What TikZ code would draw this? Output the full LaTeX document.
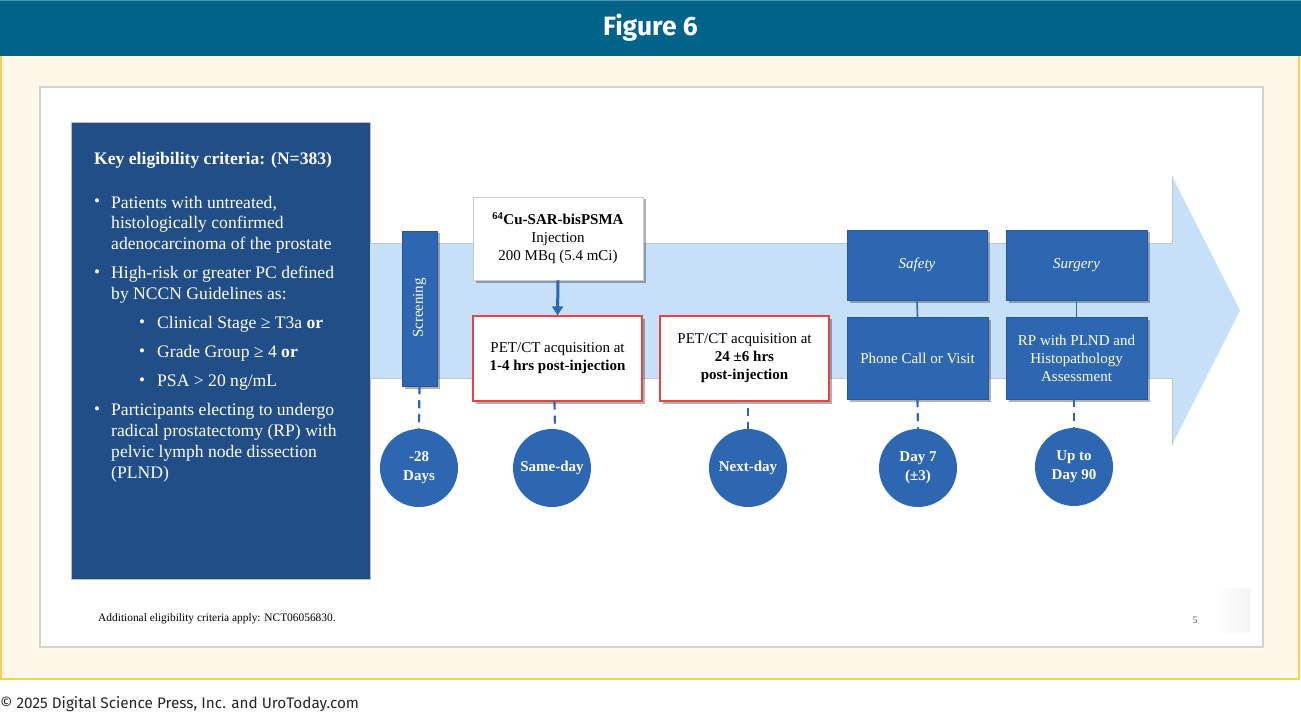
\documentclass[tikz,border=0pt]{standalone}
\usepackage{fontspec}
\setmainfont{Liberation Serif}
\newfontfamily\hdrfont{Fira Sans}
\usetikzlibrary{shadows,arrows.meta}
\definecolor{hdr}{RGB}{0,100,138}
\definecolor{panel}{RGB}{255,248,233}
\definecolor{panelborder}{RGB}{252,208,80}
\definecolor{leftblue}{RGB}{33,78,134}
\definecolor{midblue}{RGB}{46,103,177}
\definecolor{lightarrow}{RGB}{197,224,247}
\definecolor{redbox}{RGB}{228,68,68}
\tikzset{
  shadowed/.style={drop shadow={shadow xshift=2.5pt,shadow yshift=-2.5pt,opacity=0.3,fill=black}},
  bluebox/.style={shadowed,fill=midblue,draw=midblue!85!black,line width=0.5pt,text=white,align=center,inner sep=0pt,font=\fontsize{15}{18}\selectfont},
  redbx/.style={shadowed,fill=white,draw=redbox,line width=1.3pt,align=center,inner sep=0pt,font=\fontsize{15}{18}\selectfont},
  whitebx/.style={shadowed,fill=white,draw=gray!40,line width=0.6pt,align=center,inner sep=0pt,font=\fontsize{15}{18}\selectfont},
  daycirc/.style={circle,fill=midblue,minimum size=78pt,inner sep=0pt,text=white,align=center,font=\fontsize{15}{19}\selectfont\bfseries},
  dashlink/.style={draw=midblue,line width=2.2pt,dash pattern=on 8pt off 6pt},
  solidlink/.style={draw=midblue,line width=1.6pt},
  crit/.style={anchor=base west,text=white,inner sep=0pt,font=\fontsize{17.6}{20}\selectfont},
  bul/.style={anchor=base,text=white,inner sep=0pt,font=\fontsize{17}{18}\selectfont},
}
\begin{document}
\begin{tikzpicture}[x=1pt,y=-1pt]
\useasboundingbox (0,0) rectangle (1301,714);
\fill[white] (0,0) rectangle (1301,714);
% header
\fill[hdr] (0,0) rectangle (1301,56);
\fill[hdr!70!white] (0,0) rectangle (1301,1);
\node[text=white,font=\hdrfont\bfseries\fontsize{26.5}{30}\selectfont] (title) at (650.5,28) {Figure 6};
% panel
\fill[panel] (0,56) rectangle (1301,680);
\draw[panelborder,line width=2pt] (1,56) -- (1,679) -- (1299,679) -- (1299,56);
% slide
\draw[fill=white,draw=gray!35,line width=2pt] (40,87) rectangle (1263,647);
\shade[left color=white,right color=gray!8] (1212,588) rectangle (1250,632);
% left box
\draw[fill=leftblue,draw=gray!50,line width=0.8pt] (71,122) rectangle (370,579);
\node[crit,font=\fontsize{17.6}{20}\selectfont\bfseries] (t0) at (94,165) {Key eligibility criteria: (N=383)};
\node[bul] (b1) at (97,207) {•};
\node[crit] (t1a) at (111,208) {Patients with untreated,};
\node[crit] (t1b) at (111,229) {histologically confirmed};
\node[crit] (t1c) at (111,250) {adenocarcinoma of the prostate};
\node[bul] (b2) at (97,277) {•};
\node[crit] (t2a) at (111,278) {High-risk or greater PC defined};
\node[crit] (t2b) at (111,299) {by NCCN Guidelines as:};
\node[bul] (b3) at (142,327) {•};
\node[crit] (t3) at (157,328) {Clinical Stage ≥ T3a \textbf{or}};
\node[bul] (b4) at (142,356) {•};
\node[crit] (t4) at (157,357) {Grade Group ≥ 4 \textbf{or}};
\node[bul] (b5) at (142,385) {•};
\node[crit] (t5) at (157,386) {PSA > 20 ng/mL};
\node[bul] (b6) at (97,414) {•};
\node[crit] (t6a) at (111,415) {Participants electing to undergo};
\node[crit] (t6b) at (111,436) {radical prostatectomy (RP) with};
\node[crit] (t6c) at (111,457) {pelvic lymph node dissection};
\node[crit] (t6d) at (111,478) {(PLND)};
% big arrow
\fill[lightarrow] (370,243) -- (1172,243) -- (1172,176) -- (1240,310.5) -- (1172,445) -- (1172,378) -- (370,378) -- cycle;
\draw[gray!45,line width=0.6pt] (370,243) -- (1172,243) -- (1172,176);
\draw[gray!45,line width=0.6pt] (370,378) -- (1172,378) -- (1172,445);
% boxes
\node[bluebox,minimum width=35pt,minimum height=155pt] (scr) at (419.5,308.5) {};
\node[text=white,rotate=90,font=\fontsize{15}{18}\selectfont] (scrtxt) at (419.5,308) {Screening};
\node[whitebx,minimum width=170pt,minimum height=83pt] (inj) at (558,238.5) {\textbf{\textsuperscript{64}Cu-SAR-bisPSMA}\\Injection\\200 MBq (5.4 mCi)};
\node[redbx,minimum width=169pt,minimum height=85pt] (pet1) at (557.5,358.5) {PET/CT acquisition at\\\textbf{1-4 hrs post-injection}};
\node[redbx,minimum width=169pt,minimum height=85pt] (pet2) at (744.5,358.5) {PET/CT acquisition at\\\textbf{24 ±6 hrs}\\\textbf{post-injection}};
\node[bluebox,minimum width=140pt,minimum height=70pt,font=\fontsize{15}{18}\selectfont\itshape] (saf) at (917,265) {Safety};
\node[bluebox,minimum width=141pt,minimum height=82pt] (phone) at (917.5,358) {Phone Call or Visit};
\node[bluebox,minimum width=141pt,minimum height=70pt,font=\fontsize{15}{18}\selectfont\itshape] (surg) at (1076.5,265) {Surgery};
\node[bluebox,minimum width=141pt,minimum height=82pt] (rp) at (1076.5,358) {RP with PLND and\\Histopathology\\Assessment};
% connectors
\draw[midblue,line width=3pt,-{Triangle[width=11pt,length=9pt]}] (inj.south) -- (pet1.north);
\draw[solidlink] (saf.south) -- (phone.north);
\draw[solidlink] (surg.south) -- (rp.north);
% circles
\node[daycirc] (c1) at (419,468) {-28\\Days};
\node[daycirc] (c2) at (552,468) {Same-day};
\node[daycirc] (c3) at (748,468) {Next-day};
\node[daycirc] (c4) at (918,468) {Day 7\\(±3)};
\node[daycirc] (c5) at (1074,467) {Up to\\Day 90};
\draw[dashlink] (scr.south) -- (c1.north);
\draw[dashlink] ([xshift=-3pt]pet1.south) -- ([xshift=3pt]c2.north);
\draw[dashlink] ([yshift=-6pt]pet2.south) ++(3.5,0) -- (c3.north);
\draw[dashlink] (phone.south) -- (c4.north);
\draw[dashlink] ([xshift=-2.5pt]rp.south) -- (c5.north);
% footnotes
\node[anchor=base west,inner sep=0pt,font=\fontsize{11.4}{13}\selectfont] (foot) at (98,621) {Additional eligibility criteria apply: NCT06056830.};
\node[anchor=base,inner sep=0pt,text=gray!70!black,font=\fontsize{10}{12}\selectfont] (pg) at (1195,623) {5};
\node[anchor=base west,inner sep=0pt,text=black!85,font=\hdrfont\fontsize{15.3}{17}\selectfont] (copy) at (0,708) {© 2025 Digital Science Press, Inc. and UroToday.com};
\end{tikzpicture}
\end{document}
